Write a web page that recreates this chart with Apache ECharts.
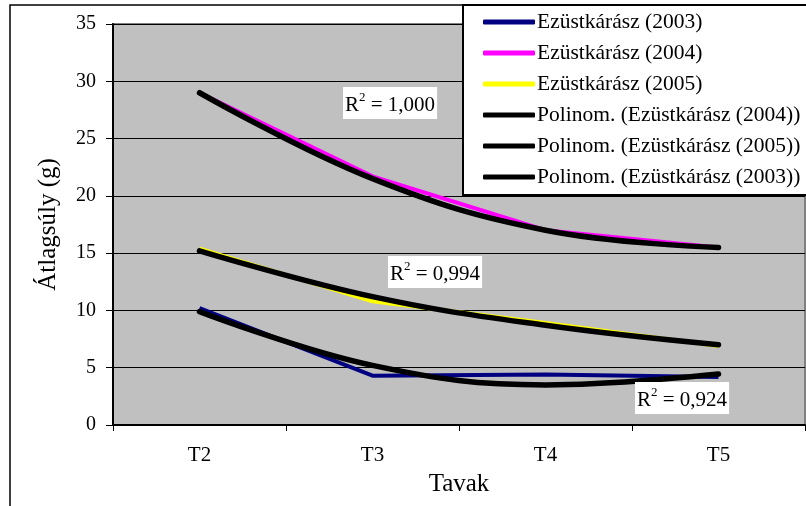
<!DOCTYPE html>
<html>
<head>
    <meta charset="utf-8">
    <title>Ezüstkárász átlagsúly</title>
    <script src="https://cdn.jsdelivr.net/npm/echarts@6/dist/echarts.min.js"></script>
    <style>
        body { margin: 0; background: #fff; }
    </style>
</head>
<body>
    <div id="chart" style="width: 806px;height:506px;"></div>
    <script type="text/javascript">
        // adatok
        var tavak = ['T2', 'T3', 'T4', 'T5'];
        var ev2003 = [10.2, 4.3, 4.4, 4.2];
        var ev2004 = [29.0, 21.7, 17.0, 15.5];
        var ev2005 = [15.4, 10.8, 8.9, 6.9];
        // trendvonalak (polinom)
        var trend2004 = [29.0, 21.5, 17.0, 15.5];
        var trend2005 = [15.2, 11.2, 8.7, 7.0];
        var trend2003 = [9.9, 5.2, 3.5, 4.45];
        var yTicks = [0, 5, 10, 15, 20, 25, 30, 35];

        var font = "'Liberation Serif', 'Times New Roman', serif";

        function r2(x, y, val) {
            return {
                type: 'text',
                left: x,
                top: y,
                z: 100,
                style: {
                    text: '{r|R}{s|2}{r| = ' + val + '}',
                    backgroundColor: '#fff',
                    padding: [4, 2, 3, 2],
                    rich: {
                        r: { fontFamily: font, fontSize: 21, fill: '#000', lineHeight: 25, verticalAlign: 'bottom' },
                        s: { fontFamily: font, fontSize: 13, fill: '#000', lineHeight: 25, verticalAlign: 'top' }
                    }
                }
            };
        }

        var myChart = echarts.init(document.getElementById('chart'));
        var option = {
            animation: false,
            textStyle: { fontFamily: font, color: '#000' },
            grid: {
                left: 113, top: 24, right: 1, bottom: 81,
                show: true,
                backgroundColor: '#C0C0C0',
                borderColor: '#808080',
                borderWidth: 2
            },
            legend: {
                orient: 'vertical',
                left: 463,
                top: 5,
                backgroundColor: '#fff',
                borderColor: '#000',
                borderWidth: 2,
                borderRadius: 0,
                padding: [5, 40, 6, 20],
                itemGap: 7,
                itemWidth: 52,
                itemHeight: 5,
                icon: 'roundRect',
                textStyle: { fontFamily: font, fontSize: 21.5, color: '#000', lineHeight: 24, padding: [0, 0, 0, -3] },
                data: ['Ezüstkárász (2003)', 'Ezüstkárász (2004)', 'Ezüstkárász (2005)',
                       'Polinom. (Ezüstkárász (2004))', 'Polinom. (Ezüstkárász (2005))', 'Polinom. (Ezüstkárász (2003))']
            },
            xAxis: {
                type: 'category',
                data: tavak,
                name: 'Tavak',
                nameLocation: 'middle',
                nameGap: 47,
                nameTextStyle: { fontFamily: font, fontSize: 25, color: '#000' },
                axisLine: { lineStyle: { color: '#000', width: 2 } },
                axisTick: { show: true, length: 6, lineStyle: { color: '#000', width: 1 } },
                axisLabel: { fontFamily: font, fontSize: 21, color: '#000', margin: 20 },
                splitLine: { show: false }
            },
            yAxis: {
                type: 'value',
                min: 0,
                max: 35,
                interval: 5,
                name: 'Átlagsúly (g)',
                nameLocation: 'middle',
                nameGap: 52,
                nameTextStyle: { fontFamily: font, fontSize: 25, color: '#000' },
                axisLine: { show: true, lineStyle: { color: '#000', width: 2 } },
                axisTick: { show: true, length: 7, lineStyle: { color: '#000', width: 1 } },
                axisLabel: {
                    fontFamily: font, fontSize: 20, color: '#000', margin: 17,
                    formatter: function (v) { return yTicks.indexOf(v) >= 0 ? String(v) : ''; }
                },
                splitLine: { show: true, lineStyle: { color: '#000', width: 1 } }
            },
            series: [
                { name: 'Ezüstkárász (2003)', type: 'line', data: ev2003, showSymbol: false, symbol: 'none',
                  itemStyle: { color: '#000080' }, lineStyle: { color: '#000080', width: 4 } },
                { name: 'Ezüstkárász (2004)', type: 'line', data: ev2004, showSymbol: false, symbol: 'none',
                  itemStyle: { color: '#FF00FF' }, lineStyle: { color: '#FF00FF', width: 4 } },
                { name: 'Ezüstkárász (2005)', type: 'line', data: ev2005, showSymbol: false, symbol: 'none',
                  itemStyle: { color: '#FFFF00' }, lineStyle: { color: '#FFFF00', width: 4 } },
                { name: 'Polinom. (Ezüstkárász (2004))', type: 'line', data: trend2004, smooth: 0.4, symbol: 'none',
                  itemStyle: { color: '#000' }, lineStyle: { color: '#000', width: 5.5, cap: 'round' } },
                { name: 'Polinom. (Ezüstkárász (2005))', type: 'line', data: trend2005, smooth: 0.4, symbol: 'none',
                  itemStyle: { color: '#000' }, lineStyle: { color: '#000', width: 5.5, cap: 'round' } },
                { name: 'Polinom. (Ezüstkárász (2003))', type: 'line', data: trend2003, smooth: 0.4, symbol: 'none',
                  itemStyle: { color: '#000' }, lineStyle: { color: '#000', width: 5.5, cap: 'round' } }
            ],
            graphic: [
                {
                    type: 'rect',
                    z: -1,
                    shape: { x: 10, y: 5, width: 900, height: 600 },
                    style: { fill: 'none', stroke: '#000', lineWidth: 1.5 }
                },
                r2(343, 87, '1,000'),
                r2(388, 256, '0,994'),
                r2(635, 382, '0,924')
            ]
        };
        myChart.setOption(option);
    </script>
</body>
</html>
